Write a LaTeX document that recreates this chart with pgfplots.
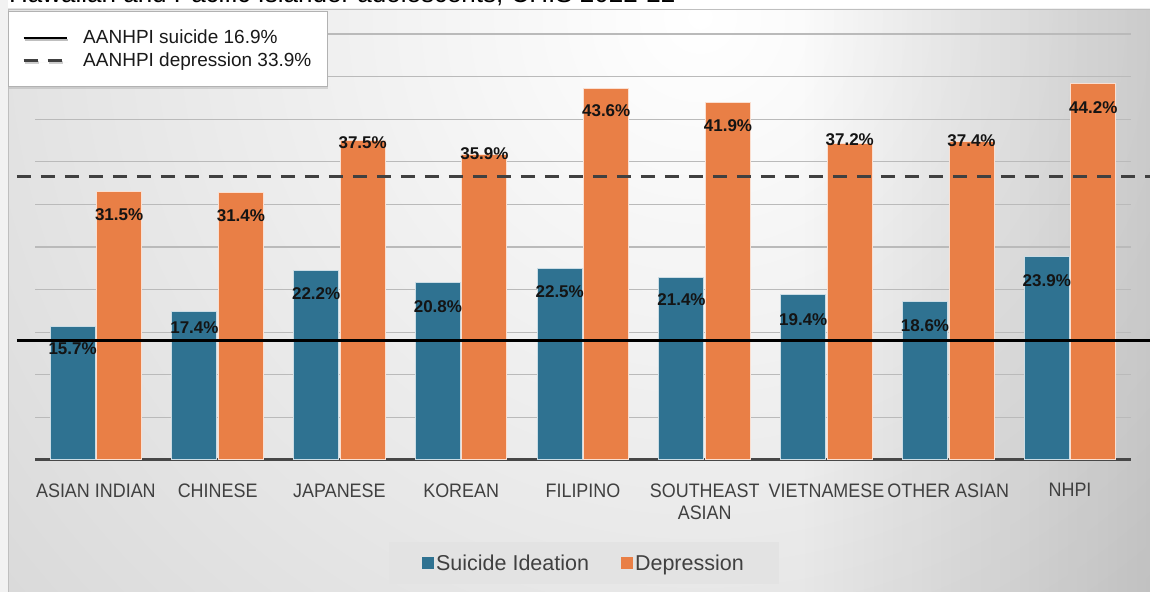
\documentclass[border=0pt]{standalone}
\usepackage{pgfplots}
\pgfplotsset{compat=1.18}
\usepackage{pgfplotstable}
\usepackage{fontspec}
\setmainfont{Liberation Sans}
\newfontfamily\narrowfont[FakeStretch=0.92]{Liberation Sans}
\usetikzlibrary{fadings,shadows}
\definecolor{sblue}{HTML}{2F7291}
\definecolor{sorange}{HTML}{E97F46}
\tikzfading[name=fadeR, left color=transparent!100, right color=transparent!0]

\pgfplotstableread{
x y dy
0 15.7 -22.8
1 17.4 -16.2
2 22.2 -23.1
3 20.8 -23.9
4 22.5 -23.4
5 21.4 -22.3
6 19.4 -24.6
7 18.6 -24.5
8 23.9 -24.3
}\suicide
\pgfplotstableread{
x y dy
0 31.5 -23.4
1 31.4 -23.5
2 37.5 -1.8
3 35.9 0.8
4 43.6 -22.5
5 41.9 -23.0
6 37.2 3.8
7 37.4 0.7
8 44.2 -23.9
}\depression

\begin{document}
\begin{tikzpicture}[x=1bp,y=1bp]
\useasboundingbox (0,0) rectangle (1150,592);
\clip (0,0) rectangle (1150,592);
\fill[white] (0,0) rectangle (1150,592);
\fill[black!5] (0,0) rectangle (8,592);
\begin{scope}
\clip (8,0) rectangle (1150,583);
\shade[inner color=white, outer color=black!21] (700,575) circle (1300);
\fill[black, fill opacity=0.14, path fading=fadeR] (800,0) rectangle (1150,583);
\end{scope}
\draw[black!25, line width=0.8bp] (8,0) -- (8,583) -- (1150,583);
\node[anchor=base west, inner sep=0, font=\fontsize{26bp}{28bp}\selectfont] at (9,589.5) {Hawaiian and Pacific Islander adolescents, CHIS 2022-22};

\begin{axis}[
  at={(35bp,132bp)}, anchor=south west, scale only axis,
  width=1096bp, height=426bp,
  xmin=-0.5, xmax=8.5, ymin=0, ymax=50,
  ybar=1.5bp, bar width=45bp,
  axis line style={draw=none},
  major tick length=0,
  xtick={0,...,8},
  xticklabels={ASIAN INDIAN, CHINESE, JAPANESE, KOREAN, FILIPINO, {SOUTHEAST\\ASIAN}, VIETNAMESE, OTHER ASIAN, NHPI},
  xticklabel style={font=\narrowfont\fontsize{19.5bp}{22bp}\selectfont, text=black!75, align=center, anchor=north, yshift=-20bp},
  ytick={5,10,...,50}, yticklabels={},
  ymajorgrids,
  grid style={black!27, line width=1.3bp},
  extra y ticks={0}, extra y tick labels={},
  extra y tick style={grid style={black!72, line width=3bp}},
  clip=false,
  nodes near coords={\pgfmathprintnumber[fixed,fixed zerofill,precision=1,assume math mode=true]{\pgfplotspointmeta}\%},
  nodes near coords style={font=\bfseries\fontsize{17bp}{18bp}\selectfont, text=black!92},
  visualization depends on={\thisrow{dy} \as \dy},
  legend style={at={(0.5009,-0.2418)}, anchor=center, fill=black!11, draw=none,
    font=\fontsize{21.5bp}{24bp}\selectfont, text=black!75,
    inner xsep=33bp, inner ysep=10bp,
    /tikz/every even column/.append style={column sep=30bp}},
  legend columns=2,
  legend image code/.code={\fill[#1,draw=none] (0bp,-6bp) rectangle (12bp,6bp);},
]
\addplot[fill=sblue, draw=white!75!sblue, line width=1bp,
  every node near coord/.append style={anchor=center, yshift=\dy bp}]
  table[x=x,y=y] {\suicide};
\addplot[fill=sorange, draw=white!75!sorange, line width=1bp,
  every node near coord/.append style={anchor=center, yshift=\dy bp}]
  table[x=x,y=y] {\depression};
\legend{Suicide Ideation, Depression}
\end{axis}

\begin{axis}[
  at={(35bp,132bp)}, anchor=south west, scale only axis,
  width=1096bp, height=426bp,
  xmin=-0.5, xmax=8.5, ymin=0, ymax=50,
  hide axis, clip=false,
  legend style={at={(-0.0246,1.054)}, anchor=north west, fill=white, draw=black!30,
    font=\fontsize{19bp}{22bp}\selectfont, text=black!90,
    inner xsep=14bp, inner ysep=17bp, row sep=3bp,
    /tikz/every odd column/.append style={column sep=13bp},
    drop shadow={opacity=0.25, shadow xshift=1bp, shadow yshift=-2bp}},
  legend cell align=left,
  legend image code/.code={\draw[#1] (0bp,0bp) -- (43bp,0bp);},
]
\addplot[black, line width=2.5bp] coordinates {(-0.648,14.03) (8.656,14.03)};
\addplot[black!75, line width=3bp, dash pattern=on 14bp off 10bp] coordinates {(-0.648,33.33) (8.656,33.33)};
\legend{AANHPI suicide 16.9\%, AANHPI depression 33.9\%\hspace{14bp}}
\end{axis}
\end{tikzpicture}
\end{document}
